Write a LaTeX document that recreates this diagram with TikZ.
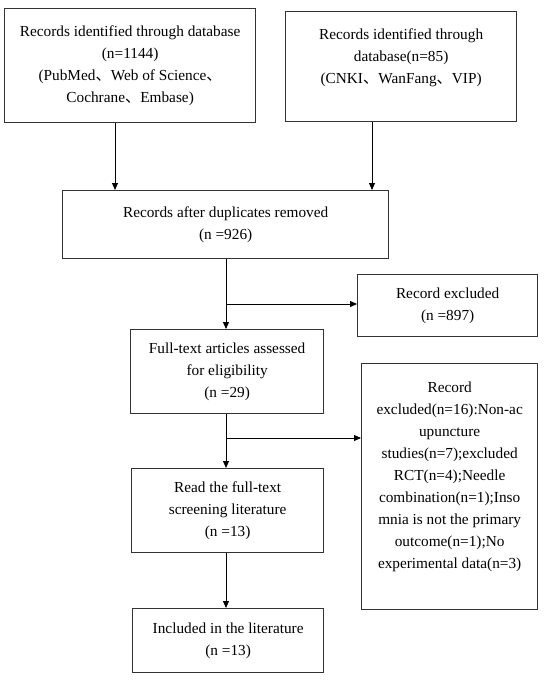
\documentclass[tikz,border=0pt]{standalone}
\usepackage{fontspec}
\setmainfont{Liberation Serif}
\newfontfamily\cjk{Noto Sans CJK SC}
\usetikzlibrary{arrows.meta, positioning, calc}
\newcommand{\dunhao}{{\cjk 、}}

\begin{document}
\begin{tikzpicture}[x=1pt,y=-1pt,
            >={Triangle[length=7pt,width=6pt]},
            box/.style={draw=black!80, line width=1.3pt, anchor=north west,
         align=center, inner sep=0pt, font=\fontsize{15.3}{22}\selectfont},
            link/.style={->, line width=0.9pt, black}]
            \useasboundingbox (0,0) rectangle (546,681);
            % identification
            \node [box, minimum width=251pt, minimum height=114pt] (dbeng) at (4,8)
               {Records identified through database\\(n=1144)\\
                (PubMed\dunhao Web of Science\dunhao\\Cochrane\dunhao Embase)};
            \node [box, minimum width=231pt, minimum height=110pt] (dbchn) at (285,11)
               {Records identified through\\database(n=85)\\
                (CNKI\dunhao WanFang\dunhao VIP)\\\mbox{}};
            % screening
            \node [box, minimum width=326pt, minimum height=68pt] (dedup) at (62,190)
               {Records after duplicates removed\\(n =926)};
            \node [box, minimum width=180pt, minimum height=62pt] (excl1) at (357,274)
               {Record excluded\\(n =897)};
            \node [box, minimum width=193pt, minimum height=84pt] (fulltext) at (130,329)
               {Full-text articles assessed\\for eligibility\\(n =29)};
            \node [box, minimum width=176pt, minimum height=246pt] (excl2) at (361,363)
               {Record\\excluded(n=16):Non-ac\\upuncture\\studies(n=7);excluded\\
                RCT(n=4);Needle\\combination(n=1);Inso\\mnia is not the primary\\
                outcome(n=1);No\\experimental data(n=3)\\\mbox{}};
            \node [box, minimum width=192pt, minimum height=84pt] (screen) at (131,468)
               {Read the full-text\\screening literature\\(n =13)};
            \node [box, minimum width=191pt, minimum height=64pt] (incl) at (132,608)
               {Included in the literature\\(n =13)};
            % connectors
            \coordinate (colA) at (115,0);
            \coordinate (colB) at (372,0);
            \coordinate (colC) at (226,0);
            \coordinate (split1) at (226,304);
            \coordinate (split2) at (226,438);
            \draw [link] (dbeng.south -| colA) -- (dedup.north -| colA);
            \draw [link] (dbchn.south -| colB) -- (dedup.north -| colB);
            \draw [link] (dedup.south -| colC) -- (fulltext.north -| colC);
            \draw [link] (split1) -- (split1 -| excl1.west);
            \draw [link] (fulltext.south -| colC) -- (screen.north -| colC);
            \draw [link] (split2) -- (split2 -| excl2.west);
            \draw [link] (screen.south -| colC) -- (incl.north -| colC);
         \end{tikzpicture}
\end{document}
